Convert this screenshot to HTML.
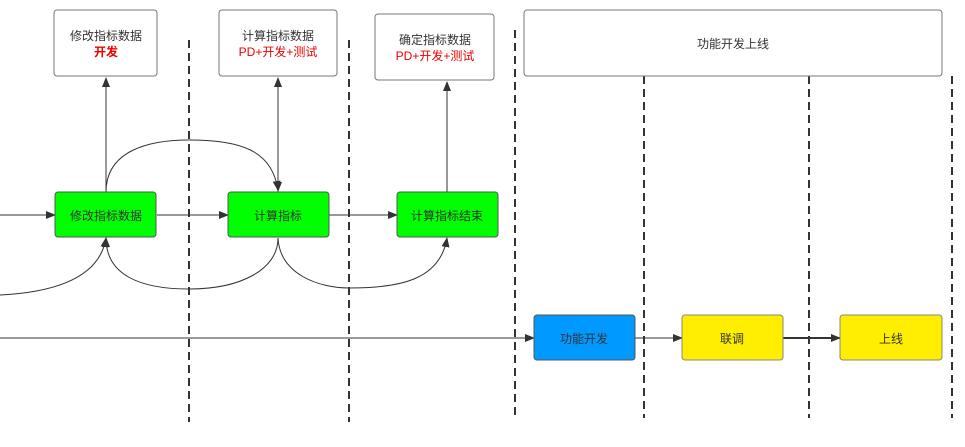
<!DOCTYPE html>
<html><head><meta charset="utf-8"><style>
body{margin:0;background:#fff;width:965px;height:442px;overflow:hidden}
svg text{font-family:"Liberation Sans","Noto Sans CJK SC",sans-serif;font-size:12px}
</style></head><body>
<svg width="965" height="442" xmlns="http://www.w3.org/2000/svg">
<defs><marker id="a" markerWidth="10" markerHeight="8" refX="9" refY="4" orient="auto" markerUnits="userSpaceOnUse"><path d="M0,0 L10,4 L0,8z" fill="#333"/></marker></defs>
<g stroke="#333" stroke-width="2" stroke-dasharray="8,5">
<line x1="189" y1="40" x2="189" y2="422"/><line x1="349" y1="40" x2="349" y2="422"/>
<line x1="515" y1="30" x2="515" y2="418"/><line x1="644" y1="76" x2="644" y2="418"/>
<line x1="809" y1="76" x2="809" y2="418"/><line x1="952" y1="76" x2="952" y2="418"/>
</g>
<g fill="#fff" stroke="#777" stroke-width="1">
<rect x="54" y="10" width="103" height="66" rx="3"/><rect x="219" y="10" width="118" height="66" rx="3"/>
<rect x="375" y="14" width="119" height="66" rx="3"/><rect x="524" y="10" width="418" height="66" rx="3"/>
</g>
<g fill="none" stroke="#333" stroke-width="1">
<line x1="106" y1="192" x2="106" y2="78" marker-end="url(#a)"/>
<line x1="278" y1="192" x2="278" y2="78" marker-end="url(#a)"/>
<line x1="447" y1="192" x2="447" y2="82" marker-end="url(#a)"/>
<line x1="278" y1="140" x2="278" y2="191" marker-end="url(#a)"/>
<path d="M106,192 C106,150 150,140 189,140 C240,140 272,150 278,190" marker-end="url(#a)"/>
<path d="M278,238 C278,270 240,289 189,289 C140,289 106,275 106,238" marker-end="url(#a)"/>
<path d="M0,295 C60,292 100,275 106,238" marker-end="url(#a)"/>
<path d="M278,238 C280,275 320,288 349,288 C400,288 440,280 447,238" marker-end="url(#a)"/>
<line x1="0" y1="215" x2="55" y2="215" marker-end="url(#a)"/>
<line x1="157" y1="215" x2="228" y2="215" marker-end="url(#a)"/>
<line x1="329" y1="215" x2="397" y2="215" marker-end="url(#a)"/>
<line x1="0" y1="338" x2="534" y2="338" marker-end="url(#a)"/>
<line x1="635" y1="338" x2="682" y2="338" marker-end="url(#a)"/>
<line x1="783" y1="338" x2="840" y2="338" marker-end="url(#a)" stroke-width="2"/>
</g>
<g stroke="#555" stroke-width="1">
<rect x="55" y="192" width="101" height="45" rx="3" fill="#00ff00"/>
<rect x="228" y="192" width="101" height="45" rx="3" fill="#00ff00"/>
<rect x="397" y="192" width="101" height="45" rx="3" fill="#00ff00"/>
<rect x="534" y="315" width="101" height="45" rx="3" fill="#0099ff"/>
<rect x="682" y="315" width="101" height="45" rx="3" fill="#ffee00" stroke="#887"/>
<rect x="840" y="315" width="102" height="45" rx="3" fill="#ffee00" stroke="#887"/>
</g>
<g text-anchor="middle" fill="#333">
<text x="106" y="40">修改指标数据</text><text x="106" y="56" fill="#e00" font-weight="bold">开发</text>
<text x="278" y="40">计算指标数据</text><text x="278" y="56" fill="#e00">PD+开发+测试</text>
<text x="435" y="44">确定指标数据</text><text x="435" y="60" fill="#e00">PD+开发+测试</text>
<text x="733" y="48">功能开发上线</text>
<text x="106" y="220">修改指标数据</text><text x="278" y="220">计算指标</text><text x="447" y="220">计算指标结束</text>
<text x="584" y="343">功能开发</text><text x="732" y="343">联调</text><text x="891" y="343">上线</text>
</g>
</svg>
</body></html>
